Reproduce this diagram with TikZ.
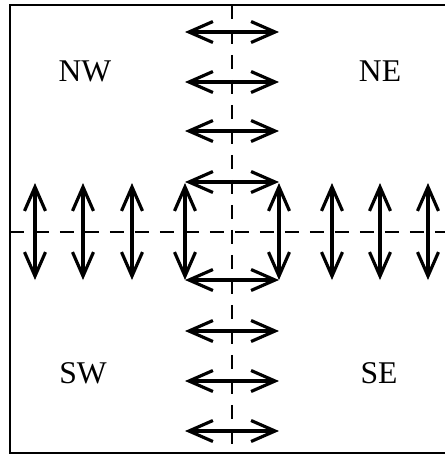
\documentclass[tikz,border=0pt]{standalone}
\usepackage{fontspec}
\setmainfont{Liberation Serif}
\usetikzlibrary{arrows.meta}
\tikzset{
	vib/.style={line width=1.8pt, {Straight Barb[length=0.48cm,width=0.42cm,line width=1.8pt]}-{Straight Barb[length=0.48cm,width=0.42cm,line width=1.8pt]}},
	axis/.style={line width=1pt, dash pattern=on 0.28cm off 0.22cm},
	frame/.style={line width=1.2pt},
	zone/.style={font=\fontsize{18}{18}\selectfont}
}

\begin{document}
\begin{tikzpicture}[x=0.02cm, y=-0.02cm]
		%%%%% START %%%%%
		\useasboundingbox (0, 0) rectangle (445, 458);
		
		\draw[frame] (445, 5) -- (10, 5) -- (10, 453) -- (445, 453);
		
		\draw[axis] (232, 5) -- (232, 453);
		\draw[axis] (10, 232) -- (445, 232);
		
		\foreach \x in {35, 83, 132, 185, 279, 332, 380, 428}
			\draw[vib] (\x, 183) -- (\x, 280);
		\foreach \y in {32, 82, 131, 182, 280, 331, 381, 431}
			\draw[vib] (185, \y) -- (279, \y);
		
		\node[zone] (nw) at (85, 71) {NW};
		\node[zone] (ne) at (380, 71) {NE};
		\node[zone] (sw) at (83, 373) {SW};
		\node[zone] (se) at (379, 373) {SE};
		
		%%%%% END %%%%%
	\end{tikzpicture}
\end{document}
